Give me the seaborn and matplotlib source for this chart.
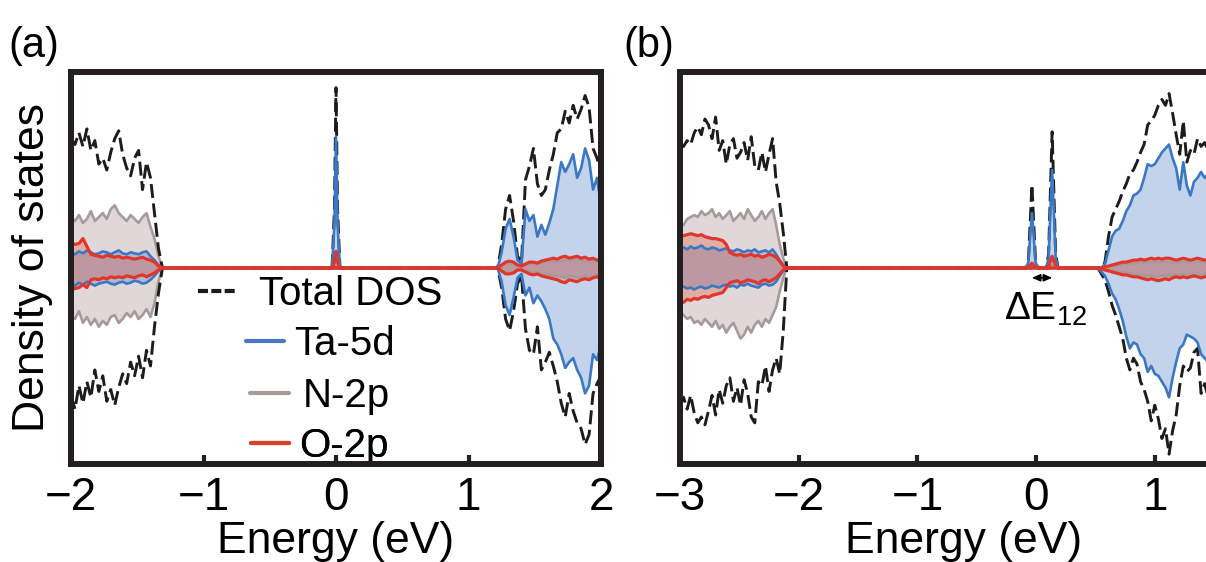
import numpy as np
import matplotlib.pyplot as plt
import matplotlib.lines as mlines
import seaborn as sns

# ---------------- panel (a) : values ----------------
# valence band edge, -2.00 ... -1.31 eV
e_vb_a = np.linspace(-2.00, -1.31, 24)
tot_up_vb_a = [6.6, 6.3, 6.9, 6.2, 7.1, 6.0, 6.5, 5.3, 5.6, 5.0, 5.9, 6.6, 7.0, 5.8, 5.1, 4.7, 5.6, 6.0, 4.0, 5.4, 4.6, 2.8, 1.0, 0.0]
tot_dn_vb_a = [-6.5, -7.2, -6.0, -6.9, -5.8, -6.6, -5.2, -6.3, -5.5, -6.8, -6.2, -7.0, -6.1, -5.4, -5.9, -4.8, -5.5, -4.5, -5.6, -4.2, -5.0, -3.0, -1.3, 0.0]
ta_up_vb_a = [0.8, 0.7, 0.85, 0.75, 0.9, 0.8, 0.7, 0.75, 0.85, 0.8, 0.7, 0.8, 0.9, 0.75, 0.7, 0.8, 0.75, 0.7, 0.8, 0.85, 0.6, 0.4, 0.15, 0.0]
ta_dn_vb_a = [-0.8, -0.9, -0.75, -0.85, -0.7, -0.8, -0.9, -0.8, -0.75, -0.7, -0.8, -0.85, -0.75, -0.7, -0.8, -0.75, -0.65, -0.7, -0.8, -0.75, -0.6, -0.4, -0.15, 0.0]
n_up_vb_a = [2.6, 2.4, 2.7, 2.3, 2.5, 2.9, 2.4, 2.6, 2.8, 2.5, 3.0, 3.2, 2.8, 2.6, 2.4, 2.7, 2.5, 2.3, 2.6, 2.8, 2.1, 1.5, 0.6, 0.0]
n_dn_vb_a = [-2.4, -2.6, -2.2, -2.8, -2.5, -2.9, -2.6, -3.0, -2.7, -2.9, -2.5, -2.4, -2.8, -2.6, -2.3, -2.5, -2.2, -2.6, -2.4, -2.1, -2.5, -1.8, -0.7, 0.0]
o_up_vb_a = [1.3, 1.2, 1.25, 1.5, 1.1, 0.7, 0.65, 0.6, 0.55, 0.65, 0.6, 0.55, 0.6, 0.5, 0.55, 0.5, 0.45, 0.5, 0.55, 0.45, 0.4, 0.3, 0.1, 0.0]
o_dn_vb_a = [-1.1, -1.05, -1.0, -0.85, -1.0, -0.6, -0.55, -0.6, -0.5, -0.55, -0.45, -0.5, -0.45, -0.5, -0.4, -0.45, -0.5, -0.4, -0.35, -0.45, -0.35, -0.25, -0.1, 0.0]

# gap state at 0 eV (spin up only)
e_pk_a = [-0.03, -0.012, 0.0, 0.012, 0.03]
tot_pk_a = [0.0, 3.0, 9.2, 3.0, 0.0]
ta_pk_a = [0.0, 2.2, 6.7, 2.2, 0.0]
n_pk_a = [0.0, 0.1, 0.3, 0.1, 0.0]
o_pk_a = [0.0, 0.3, 0.85, 0.3, 0.0]

# conduction band edge, 1.22 ... 2.00 eV
e_cb_a = np.linspace(1.22, 2.00, 27)
tot_up_cb_a = [0.0, 1.2, 3.0, 3.7, 2.4, 0.6, 0.3, 4.5, 5.2, 6.1, 4.3, 3.7, 4.0, 5.0, 5.8, 6.9, 7.1, 8.0, 7.4, 8.3, 7.6, 8.1, 8.8, 8.2, 6.1, 5.6, 4.9]
tot_dn_cb_a = [0.0, -1.0, -2.6, -3.2, -2.2, -0.8, -0.4, -3.1, -4.2, -4.4, -3.0, -5.2, -4.8, -4.3, -5.0, -5.8, -6.9, -7.6, -6.4, -7.3, -7.9, -8.2, -9.0, -8.5, -6.4, -5.9, -5.5]
ta_up_cb_a = [0.0, 0.8, 2.0, 2.5, 1.6, 0.4, 0.2, 3.0, 2.4, 2.7, 1.6, 2.2, 1.7, 2.3, 3.0, 4.2, 5.4, 4.9, 5.3, 5.8, 4.6, 5.1, 6.1, 5.5, 4.0, 4.6, 3.2]
ta_dn_cb_a = [0.0, -0.7, -1.9, -2.4, -1.5, -0.5, -0.3, -1.4, -1.0, -1.8, -1.4, -1.7, -2.1, -2.6, -3.6, -3.9, -4.4, -5.1, -4.8, -4.6, -5.2, -5.6, -6.4, -6.0, -4.4, -4.7, -3.9]
n_up_cb_a = [0.0, 0.1, 0.2, 0.25, 0.2, 0.1, 0.1, 0.2, 0.2, 0.25, 0.2, 0.25, 0.3, 0.3, 0.35, 0.3, 0.35, 0.4, 0.35, 0.4, 0.45, 0.4, 0.35, 0.4, 0.35, 0.3, 0.35]
n_dn_cb_a = [0.0, -0.1, -0.2, -0.25, -0.2, -0.1, -0.05, -0.15, -0.2, -0.25, -0.2, -0.3, -0.3, -0.35, -0.4, -0.4, -0.45, -0.5, -0.4, -0.45, -0.5, -0.45, -0.4, -0.45, -0.4, -0.35, -0.4]
o_up_cb_a = [0.0, 0.15, 0.3, 0.35, 0.3, 0.15, 0.1, 0.2, 0.3, 0.3, 0.25, 0.35, 0.4, 0.45, 0.5, 0.45, 0.55, 0.6, 0.5, 0.55, 0.6, 0.5, 0.55, 0.45, 0.5, 0.4, 0.45]
o_dn_cb_a = [0.0, -0.15, -0.3, -0.3, -0.25, -0.1, -0.1, -0.2, -0.3, -0.35, -0.3, -0.4, -0.45, -0.5, -0.55, -0.6, -0.7, -0.75, -0.6, -0.65, -0.7, -0.6, -0.55, -0.6, -0.5, -0.45, -0.5]

# ---------------- panel (b) ----------------
e_vb_b = np.linspace(-3.00, -2.10, 31)
tot_up_vb_b = [6.4, 6.2, 6.5, 6.3, 6.9, 7.2, 6.8, 7.6, 7.3, 6.6, 7.7, 6.0, 6.5, 5.3, 6.3, 6.6, 5.6, 5.9, 6.4, 5.5, 6.7, 5.2, 5.0, 5.9, 4.9, 5.8, 6.6, 4.4, 3.3, 1.8, 0.0]
tot_dn_vb_b = [-7.0, -6.6, -7.2, -6.5, -7.4, -7.9, -7.6, -8.0, -7.3, -6.5, -7.5, -6.2, -6.9, -6.0, -5.6, -6.8, -6.1, -7.0, -5.7, -6.4, -7.6, -7.9, -5.8, -6.0, -5.0, -6.3, -5.2, -4.6, -5.4, -3.2, 0.0]
ta_up_vb_b = [1.0, 1.05, 0.95, 1.1, 1.0, 1.05, 1.15, 1.0, 0.95, 1.05, 1.0, 0.9, 0.95, 1.0, 0.9, 0.85, 0.95, 0.9, 0.8, 0.9, 0.85, 0.95, 0.8, 0.85, 0.9, 0.8, 0.95, 0.7, 0.4, 0.15, 0.0]
ta_dn_vb_b = [-1.0, -0.95, -1.05, -1.0, -1.1, -1.0, -0.95, -1.05, -1.0, -0.9, -0.95, -1.0, -0.9, -0.85, -0.95, -0.9, -1.0, -0.85, -0.9, -0.8, -0.9, -0.95, -1.0, -0.85, -0.8, -0.9, -0.85, -0.7, -0.4, -0.15, 0.0]
n_up_vb_b = [2.1, 2.2, 2.5, 2.6, 2.7, 2.6, 2.9, 2.7, 2.8, 3.0, 2.6, 2.8, 2.5, 2.7, 2.9, 2.4, 2.6, 2.8, 2.5, 3.0, 2.7, 2.4, 2.6, 2.9, 2.5, 2.8, 3.0, 2.2, 1.2, 0.5, 0.0]
n_dn_vb_b = [-2.3, -2.4, -2.6, -2.5, -2.8, -2.7, -2.9, -2.6, -2.8, -3.0, -2.7, -3.1, -2.9, -3.3, -3.0, -2.8, -3.2, -3.6, -3.4, -3.0, -3.3, -2.9, -2.7, -3.0, -2.6, -2.8, -2.4, -2.0, -1.2, -0.5, 0.0]
o_up_vb_b = [1.7, 1.65, 1.7, 1.75, 1.7, 1.65, 1.7, 1.6, 1.55, 1.5, 1.5, 1.45, 1.4, 1.2, 0.8, 0.7, 0.65, 0.7, 0.6, 0.65, 0.7, 0.6, 0.65, 0.55, 0.6, 0.7, 0.65, 0.55, 0.35, 0.1, 0.0]
o_dn_vb_b = [-1.7, -1.75, -1.6, -1.65, -1.55, -1.6, -1.5, -1.45, -1.5, -1.4, -1.35, -1.3, -1.25, -1.0, -0.75, -0.7, -0.65, -0.75, -0.7, -0.6, -0.65, -0.7, -0.8, -0.65, -0.6, -0.7, -0.6, -0.5, -0.3, -0.1, 0.0]

# two gap states (spin up only)
e_pk_b = [-0.085, -0.065, -0.05, -0.035, -0.02, -0.005, 0.015,
          0.085, 0.105, 0.12, 0.135, 0.15, 0.165, 0.185]
tot_pk_b = [0.0, 0.4, 2.3, 4.25, 2.3, 0.4, 0.0, 0.0, 0.7, 3.8, 6.95, 3.8, 0.7, 0.0]
ta_pk_b = [0.0, 0.3, 1.6, 2.8, 1.6, 0.3, 0.0, 0.0, 0.5, 2.8, 5.0, 2.8, 0.5, 0.0]
n_pk_b = [0.0, 0.02, 0.06, 0.1, 0.06, 0.02, 0.0, 0.0, 0.03, 0.1, 0.15, 0.1, 0.03, 0.0]
o_pk_b = [0.0, 0.05, 0.15, 0.25, 0.15, 0.05, 0.0, 0.0, 0.1, 0.35, 0.6, 0.35, 0.1, 0.0]

e_cb_b = np.linspace(0.52, 1.48, 33)
tot_up_cb_b = [0, 0, 0.3, 1.6, 2.6, 3.0, 3.4, 3.9, 4.3, 4.8, 5.0, 5.4, 5.9, 6.3, 7.3, 7.5, 7.8, 8.3, 8.6, 8.3, 8.9, 7.9, 6.8, 5.8, 7.5, 5.4, 6.0, 5.8, 6.6, 6.2, 6.4, 6.0, 6.3]
tot_dn_cb_b = [0, -0.3, -0.6, -1.2, -1.9, -2.4, -3.0, -3.6, -4.6, -5.2, -4.6, -4.9, -5.8, -6.2, -6.8, -7.8, -7.0, -7.7, -8.7, -8.2, -9.5, -8.3, -7.5, -6.0, -5.0, -5.3, -5.1, -4.3, -4.1, -6.4, -5.9, -6.6, -6.0]
ta_up_cb_b = [0, 0, 0.2, 0.9, 1.6, 1.9, 2.0, 2.4, 2.9, 3.2, 3.7, 3.8, 4.0, 4.6, 5.3, 5.2, 5.3, 5.6, 5.9, 6.1, 6.3, 5.6, 5.1, 4.0, 5.4, 4.2, 3.7, 4.4, 4.6, 4.9, 4.6, 4.8, 4.5]
ta_dn_cb_b = [0, -0.2, -0.4, -0.8, -1.3, -1.6, -2.1, -2.7, -3.5, -4.1, -3.8, -3.9, -4.4, -4.6, -5.3, -5.0, -5.4, -5.5, -5.8, -6.1, -6.6, -5.6, -4.8, -4.1, -3.9, -3.4, -3.5, -3.6, -3.8, -4.4, -4.6, -4.8, -4.5]
n_up_cb_b = [0, 0, 0.03, 0.06, 0.1, 0.12, 0.15, 0.2, 0.2, 0.22, 0.25, 0.25, 0.3, 0.28, 0.3, 0.32, 0.3, 0.33, 0.3, 0.32, 0.3, 0.28, 0.25, 0.3, 0.32, 0.3, 0.28, 0.3, 0.32, 0.3, 0.28, 0.3, 0.28]
n_dn_cb_b = [0, -0.03, -0.06, -0.1, -0.12, -0.15, -0.2, -0.22, -0.25, -0.28, -0.3, -0.32, -0.35, -0.38, -0.4, -0.38, -0.42, -0.45, -0.4, -0.38, -0.4, -0.35, -0.32, -0.35, -0.3, -0.33, -0.3, -0.28, -0.3, -0.33, -0.3, -0.28, -0.3]
o_up_cb_b = [0, 0, 0.05, 0.1, 0.15, 0.2, 0.25, 0.3, 0.3, 0.35, 0.4, 0.4, 0.45, 0.4, 0.45, 0.5, 0.45, 0.5, 0.45, 0.5, 0.5, 0.45, 0.4, 0.45, 0.5, 0.45, 0.4, 0.45, 0.5, 0.45, 0.4, 0.45, 0.4]
o_dn_cb_b = [0, -0.05, -0.1, -0.15, -0.2, -0.25, -0.3, -0.35, -0.35, -0.4, -0.45, -0.45, -0.5, -0.55, -0.6, -0.55, -0.6, -0.65, -0.6, -0.55, -0.6, -0.5, -0.45, -0.5, -0.45, -0.5, -0.45, -0.4, -0.45, -0.5, -0.45, -0.4, -0.45]

labels = ["Total DOS", "Ta-5d", "N-2p", "O-2p"]
ticks_a = [-2, -1, 0, 1, 2]
ticks_b = [-3, -2, -1, 0, 1]

# colours
c_tot = "#1c1c1c"
c_ta, f_ta = "#3b78c4", "#3d6fc2"
c_n, f_n = "#a8999a", "#a89090"
c_o, f_o = "#e2352b", "#e0502f"
c_spine = "#231f20"


def join(*parts):
    return np.concatenate([np.asarray(p, dtype=float) for p in parts])


sns.set_style("white")
plt.rcParams["font.family"] = ["Liberation Sans", "DejaVu Sans"]
plt.rcParams["text.color"] = "black"
plt.rcParams["axes.labelcolor"] = "black"
plt.rcParams["xtick.color"] = "black"
plt.rcParams["mathtext.fontset"] = "custom"
plt.rcParams["mathtext.rm"] = "Liberation Sans"
plt.rcParams["mathtext.it"] = "Liberation Sans:italic"

fig = plt.figure(figsize=(12.06, 5.62), dpi=100)
W, H = 1206, 562
ax_a = fig.add_axes([71 / W, 1 - 464 / H, 530 / W, 392 / H])
ax_b = fig.add_axes([680 / W, 1 - 464 / H, 5 * 118.7 / W, 392 / H])


def draw(ax, e, tot, ta, n, o):
    # filled partial DOS
    for (up, dn), fc, a in [(n, f_n, 0.35), (ta, f_ta, 0.3), (o, f_o, 0.3)]:
        ax.fill_between(e, dn, up, color=fc, alpha=a, lw=0, zorder=1)
    for (up, dn), col, z in [(n, c_n, 2), (tot, c_tot, 3), (ta, c_ta, 4), (o, c_o, 5)]:
        for y in (up, dn):
            if col == c_tot:
                sns.lineplot(x=e, y=y, ax=ax, color=col, lw=2.1, estimator=None,
                             linestyle=(0, (4.8, 1.9)), zorder=z)
            elif col == c_o:
                sns.lineplot(x=e, y=y, ax=ax, color=col, lw=2.3, estimator=None, zorder=z)
            else:
                sns.lineplot(x=e, y=y, ax=ax, color=col, lw=1.9, estimator=None, zorder=z)


z5, z14 = np.zeros(5), np.zeros(14)
e_a = join(e_vb_a, e_pk_a, e_cb_a)
draw(ax_a, e_a,
     (join(tot_up_vb_a, tot_pk_a, tot_up_cb_a), join(tot_dn_vb_a, z5, tot_dn_cb_a)),
     (join(ta_up_vb_a, ta_pk_a, ta_up_cb_a), join(ta_dn_vb_a, z5, ta_dn_cb_a)),
     (join(n_up_vb_a, n_pk_a, n_up_cb_a), join(n_dn_vb_a, z5, n_dn_cb_a)),
     (join(o_up_vb_a, o_pk_a, o_up_cb_a), join(o_dn_vb_a, z5, o_dn_cb_a)))

e_b = join(e_vb_b, e_pk_b, e_cb_b)
draw(ax_b, e_b,
     (join(tot_up_vb_b, tot_pk_b, tot_up_cb_b), join(tot_dn_vb_b, z14, tot_dn_cb_b)),
     (join(ta_up_vb_b, ta_pk_b, ta_up_cb_b), join(ta_dn_vb_b, z14, ta_dn_cb_b)),
     (join(n_up_vb_b, n_pk_b, n_up_cb_b), join(n_dn_vb_b, z14, n_dn_cb_b)),
     (join(o_up_vb_b, o_pk_b, o_up_cb_b), join(o_dn_vb_b, z14, o_dn_cb_b)))

for ax, ticks, lim, lx in [(ax_a, ticks_a, (-2, 2), 0.5), (ax_b, ticks_b, (-3, 2), 0.477)]:
    ax.set_xlim(*lim)
    ax.set_ylim(-10, 10)
    ax.set_yticks([])
    ax.set_xticks(ticks)
    ax.tick_params(axis="x", direction="in", length=6.5, width=3, color=c_spine,
                   labelcolor="black", pad=9, labelsize=33, bottom=True)
    ax.set_xlabel("Energy (eV)", fontsize=32, color="black")
    ax.xaxis.set_label_coords(lx, -0.145)
    for sp in ax.spines.values():
        sp.set_linewidth(4.3)
        sp.set_color(c_spine)
        sp.set_zorder(10)
ax_a.set_ylabel("Density of states", fontsize=32, labelpad=13, color="black")

# legend, one centred row per entry
handles = [
    mlines.Line2D([], [], color=c_tot, lw=3, ls=(0, (2.4, 0.8))),
    mlines.Line2D([], [], color="#4a78c2", lw=3),
    mlines.Line2D([], [], color="#a89b98", lw=3),
    mlines.Line2D([], [], color="#d8402e", lw=3),
]
rows_y = [0.433, 0.305, 0.173, 0.046]
pads = [0.55, 0.25, 0.35, 0.25]
for h, lab, y, p in zip(handles, labels, rows_y, pads):
    leg = ax_a.legend([h], [lab], loc="center", bbox_to_anchor=(0.47, y),
                      frameon=False, fontsize=29, handlelength=0.95,
                      handletextpad=p, borderpad=0, borderaxespad=0,
                      labelcolor="black")
    ax_a.add_artist(leg)

# splitting of the two gap states
ax_b.annotate("", xy=(e_pk_b[3], -0.5), xytext=(e_pk_b[10], -0.5),
              arrowprops=dict(arrowstyle="<|-|>,head_length=0.5,head_width=0.22",
                              color="black", lw=1.1, shrinkA=0, shrinkB=0,
                              mutation_scale=10))
ax_b.text(-0.27, -2.65, r"$\Delta\mathrm{E}_{12}$", fontsize=28, ha="left", va="baseline")

fig.text(8 / W, 1 - 26 / H, "(a)", fontsize=30, va="top", ha="left")
fig.text(623 / W, 1 - 26 / H, "(b)", fontsize=30, va="top", ha="left")

fig.savefig("out.png", dpi=100, facecolor="white")
